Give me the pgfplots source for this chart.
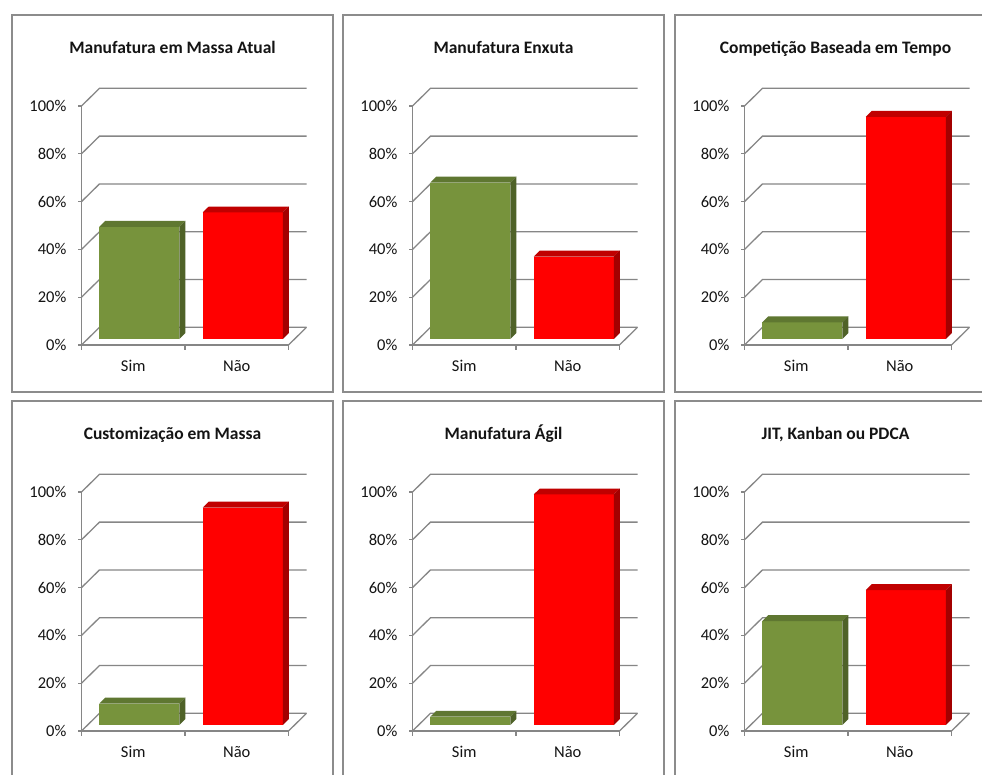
\documentclass[border=0pt]{standalone}
\usepackage{pgfplots}
\pgfplotsset{compat=1.18}
\usepackage{fontspec}
\setmainfont{Carlito}

\definecolor{simfront}{HTML}{77933C}
\definecolor{simtop}{HTML}{5F7731}
\definecolor{simside}{HTML}{4F6228}
\definecolor{naofront}{HTML}{FF0000}
\definecolor{naotop}{HTML}{C00000}
\definecolor{naoside}{HTML}{A30000}
\definecolor{gridgray}{HTML}{868686}
\definecolor{boxgray}{HTML}{8C8C8C}
\definecolor{txt}{HTML}{141414}

% one framed chart: #1 frame left, #2 frame top (from the top edge),
% #3 title, #4 share answering "Sim", #5 share answering "Não"
\newcommand{\panel}[5]{%
  \pgfmathsetmacro\axx{#1+69.5}%
  \pgfmathsetmacro\axy{775-#2-330}%
  \pgfmathsetmacro\boxt{775-#2}%
  \pgfmathsetmacro\boxr{#1+321}%
  \pgfmathsetmacro\boxb{775-#2-377}%
  \pgfmathsetmacro\tx{#1+160.5}%
  \pgfmathsetmacro\ty{775-#2-39}%
  \draw[boxgray, line width=1.1pt] (#1,\boxt) rectangle (\boxr,\boxb);
  \node[anchor=base, font=\fontsize{17.5}{20}\selectfont\bfseries, text=txt] at (\tx,\ty) {#3};
  % heights of the front and back edges of each bar top
  \pgfmathsetmacro\sft{#4+2.47}\pgfmathsetmacro\sbk{#4+4.94}%
  \pgfmathsetmacro\nft{#5+2.47}\pgfmathsetmacro\nbk{#5+4.94}%
  \begin{axis}[
    at={(\axx pt,\axy pt)}, anchor=south west,
    scale only axis, width=207pt, height=239pt,
    xmin=-0.5, xmax=1.5, ymin=0, ymax=100,
    clip=false,
    axis line style={draw=none},
    tick style={draw=none}, major tick length=0pt,
    xtick={0,1}, xticklabels={Sim,Não},
    ytick={0,20,40,60,80,100},
    yticklabels={0\%,20\%,40\%,60\%,80\%,100\%},
    tick label style={font=\fontsize{16.5}{18}\selectfont, text=txt},
    xticklabel style={anchor=base, inner sep=0pt, yshift=-26.5pt},
    yticklabel style={anchor=east, inner sep=0pt, xshift=-15pt},
  ]
    % back wall, floor and side edges of the 3-D box
    \pgfplotsinvokeforeach{0,20,40,60,80,100}{%
      \draw[gridgray, line width=1.3pt] (axis cs:-0.5,##1) -- (axis cs:-0.326,##1+7.4) -- (axis cs:1.674,##1+7.4);
      \draw[gridgray, line width=1.3pt] (axis cs:-0.5,##1) -- ++(-4pt,0pt);
    }
    \draw[gridgray, line width=1.3pt] (axis cs:1.5,0) -- (axis cs:1.674,7.4);
    \draw[gridgray, line width=1.3pt] (axis cs:-0.5,100) -- (axis cs:-0.5,0) -- (axis cs:1.5,0);
    \pgfplotsinvokeforeach{-0.5,0.5,1.5}{%
      \draw[gridgray, line width=1.3pt] (axis cs:##1,0) -- ++(0pt,-5pt);
    }
    % Sim
    \addplot[ybar, bar width=80pt, bar shift=6pt, yshift=5.9pt, fill=simfront, draw=none] coordinates {(0,#4)};
    \addplot[fill=simtop, draw=none] coordinates {(-0.3285,\sft) (0.4445,\sft) (0.5025,\sbk) (-0.2705,\sbk)};
    \addplot[fill=simside, draw=none] coordinates {(0.4445,2.47) (0.4445,\sft) (0.5025,\sbk) (0.5025,4.94)};
    % Não
    \addplot[ybar, bar width=80pt, bar shift=6pt, yshift=5.9pt, fill=naofront, draw=none] coordinates {(1,#5)};
    \addplot[fill=naotop, draw=none] coordinates {(0.6715,\nft) (1.4445,\nft) (1.5025,\nbk) (0.7295,\nbk)};
    \addplot[fill=naoside, draw=none] coordinates {(1.4445,2.47) (1.4445,\nft) (1.5025,\nbk) (1.5025,4.94)};
  \end{axis}
}

\begin{document}
\begin{tikzpicture}[x=1pt,y=1pt]
  \useasboundingbox (0,0) rectangle (982,775);
  \clip (0,0) rectangle (982,775);
  \fill[white] (0,0) rectangle (982,775);
  \panel{12}{15}{Manufatura em Massa Atual}{47}{53}
  \panel{343}{15}{Manufatura Enxuta}{65.5}{34.5}
  \panel{675}{15}{Competição Baseada em Tempo}{7}{93}
  \panel{12}{401}{Customização em Massa}{9}{91}
  \panel{343}{401}{Manufatura Ágil}{3.5}{96.5}
  \panel{675}{401}{JIT, Kanban ou PDCA}{43.5}{56.5}
\end{tikzpicture}
\end{document}
